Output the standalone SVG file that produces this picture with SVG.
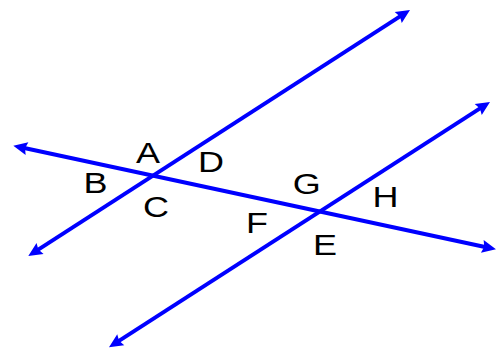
<svg xmlns="http://www.w3.org/2000/svg" width="498" height="349" viewBox="0 0 498 349">
  <style>
    .ln { stroke: #0000FF; stroke-width: 4; fill: none; marker-start: url(#arr); marker-end: url(#arr); }
    .lbl { font-family: "Liberation Sans", Arial, sans-serif; font-size: 30px; fill: #000000; text-anchor: middle; }
  </style>
  <defs>
    <marker id="arr" markerUnits="userSpaceOnUse" viewBox="-6 -8 18 16" refX="0" refY="0" markerWidth="18" markerHeight="16" orient="auto-start-reverse" overflow="visible">
      <path d="M10,0 L-4,-6.5 L-2,0 L-4,6.5 Z" fill="#0000FF"/>
    </marker>
  </defs>
  <rect width="498" height="349" fill="#FFFFFF"/>
  <g id="connectors">
    <line id="parallel-1" class="ln" x1="36.7" y1="250.6" x2="401.6" y2="15.4"/>
    <line id="parallel-2" class="ln" x1="117.4" y1="341.9" x2="481.6" y2="107.4"/>
    <line id="transversal" class="ln" x1="23.1" y1="147.8" x2="486.2" y2="247.2"/>
  </g>
  <g id="label-A"><text class="lbl" transform="translate(148,162.5) scale(1.2,1)">A</text></g>
  <g id="label-B"><text class="lbl" transform="translate(95.5,193.3) scale(1.2,1)">B</text></g>
  <g id="label-C"><text class="lbl" transform="translate(156,216.5) scale(1.2,1)">C</text></g>
  <g id="label-D"><text class="lbl" transform="translate(211,172.3) scale(1.2,1)">D</text></g>
  <g id="label-F"><text class="lbl" transform="translate(257,232.7) scale(1.2,1)">F</text></g>
  <g id="label-G"><text class="lbl" transform="translate(306.7,193.5) scale(1.2,1)">G</text></g>
  <g id="label-H"><text class="lbl" transform="translate(385.5,206.7) scale(1.2,1)">H</text></g>
  <g id="label-E"><text class="lbl" transform="translate(325,255) scale(1.2,1)">E</text></g>
</svg>
